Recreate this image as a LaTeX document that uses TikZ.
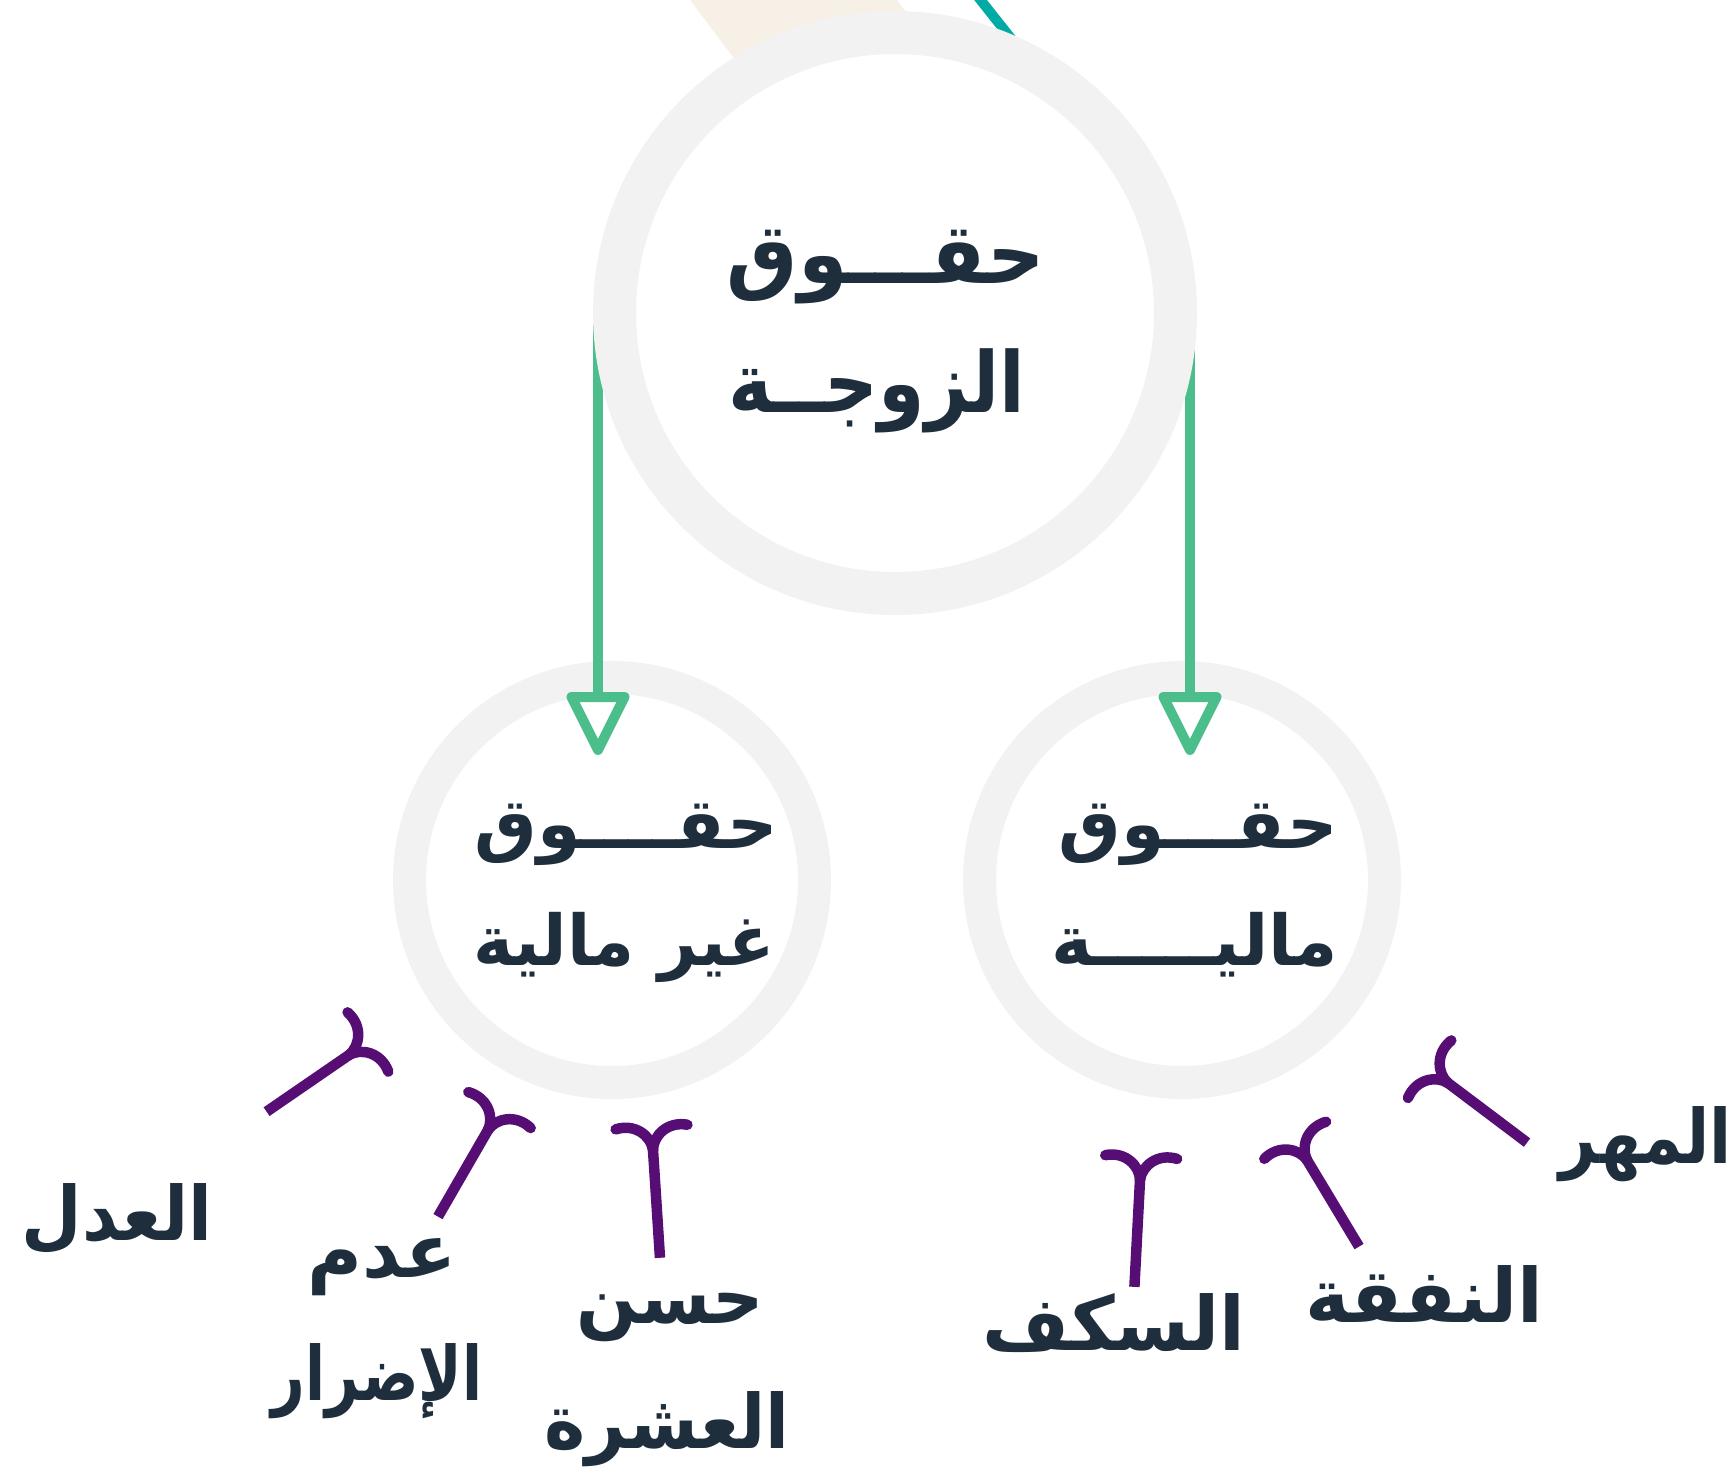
\documentclass[tikz,border=0pt]{standalone}
\usepackage{graphicx}
\usepackage{fontspec}
\TeXXeTstate=1
\newfontfamily\arabicfont[Script=Arabic]{DejaVu Sans}
\newcommand\artxt[2][1]{\scalebox{#1}[1]{\arabicfont\bfseries\beginR #2\endR}}
\definecolor{ringgray}{HTML}{F2F2F2}
\definecolor{arrgreen}{HTML}{4CBE8B}
\definecolor{forkpurple}{HTML}{560D74}
\definecolor{tealc}{HTML}{00ABA5}
\definecolor{beigec}{HTML}{F7F0E6}
\definecolor{navy}{HTML}{1F2E3D}
\tikzset{
  ringbig/.style={circle, draw=ringgray, fill=white, line width=43pt, inner sep=0pt, minimum size=561pt},
  ringsmall/.style={circle, draw=ringgray, fill=white, line width=33pt, inner sep=0pt, minimum size=405pt},
  greenline/.style={draw=arrgreen, line width=10pt},
  greentip/.style={draw=arrgreen, fill=white, line width=10pt, line join=round},
  forkline/.style={draw=forkpurple, line width=10.5pt},
  bigtxt/.style={text=navy, anchor=base, inner sep=0pt, font=\fontsize{84}{100}\selectfont},
  midtxt/.style={text=navy, anchor=base, inner sep=0pt, font=\fontsize{70}{84}\selectfont},
  labtxt/.style={text=navy, anchor=base, inner sep=0pt, font=\fontsize{75}{90}\selectfont},
  fork/.pic={
    \draw[forkline, line cap=butt] (-#1,0) -- (0.5,0);
    \draw[forkline, line cap=round] (0,0) .. controls (14,1) and (28,16) .. (23,36);
    \draw[forkline, line cap=round] (0,0) .. controls (14,-1) and (28,-16) .. (23,-36);
  }
}
\begin{document}
\begin{tikzpicture}[x=1pt,y=1pt]
\useasboundingbox (0,0) rectangle (1736,-1467);
% background decorations behind top circle
\fill[beigec] (690,0) -- (897,0) -- (1010,-150) -- (803,-150) -- cycle;
\draw[tealc, line width=10pt] (975,7) -- (1040,-75);
% lower circles
\node[ringsmall] (left) at (612,-880) {};
\node[ringsmall] (right) at (1182,-880) {};
% green arrows
\coordinate (ls) at (598,-318);
\coordinate (le) at (598,-697);
\coordinate (rs) at (1190,-318);
\coordinate (re) at (1190,-697);
\draw[greenline] (ls) -- (le);
\draw[greenline] (rs) -- (re);
\draw[greentip] (le) ++(-26.5,0) -- ++(53,0) -- ++(-26.5,-53) -- cycle;
\draw[greentip] (re) ++(-26.5,0) -- ++(53,0) -- ++(-26.5,-53) -- cycle;
% top circle
\node[ringbig] (top) at (895,-313) {};
% texts
\node[bigtxt] (t1) at (886,-283) {\artxt[0.95]{حقـــوق}};
\node[bigtxt] (t2) at (877,-412) {\artxt[0.89]{الزوجــة}};
\node[midtxt] (l1) at (626,-848) {\artxt{حقــــوق}};
\node[midtxt] (l2) at (624,-965) {\artxt[0.97]{غير مالية}};
\node[midtxt] (r1) at (1198,-848) {\artxt{حقـــوق}};
\node[midtxt] (r2) at (1195,-965) {\artxt{ماليـــــة}};
% labels
\node[labtxt] (a1) at (117,-1240) {\artxt[0.93]{العدل}};
\node[labtxt] (a2) at (382,-1277) {\artxt{عدم}};
\node[labtxt] (a3) at (377,-1400) {\artxt[0.78]{الإضرار}};
\node[labtxt] (a4) at (670,-1323) {\artxt[0.95]{حسن}};
\node[labtxt] (a5) at (667,-1448) {\artxt[0.93]{العشرة}};
\node[labtxt] (b1) at (1114,-1350) {\artxt{السكف}};
\node[labtxt] (b2) at (1424,-1322) {\artxt{النفقة}};
\node[labtxt] (b3) at (1646,-1163) {\artxt[0.86]{المهر}};
% forks
\pic[rotate=34.5] at (349,-1055) {fork=100};
\pic[rotate=60] at (488,-1130) {fork=100};
\pic[rotate=93.7] at (653,-1150) {fork=108};
\pic[rotate=87] at (1140,-1180) {fork=107};
\pic[rotate=121] at (1307,-1160) {fork=101};
\pic[rotate=143] at (1448,-1083) {fork=99};
\end{tikzpicture}
\end{document}
